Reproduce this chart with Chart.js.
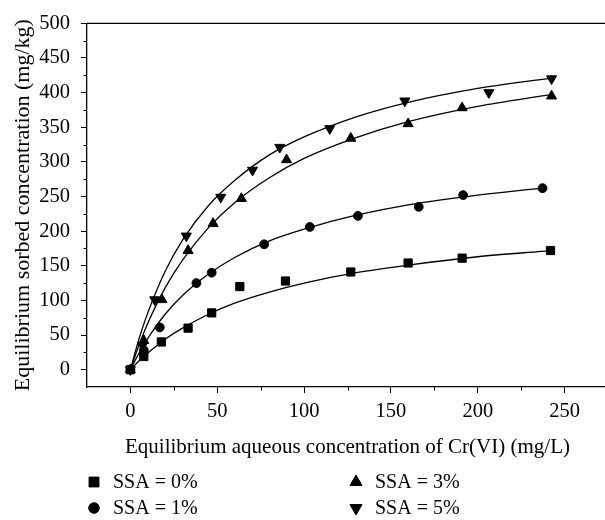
<!DOCTYPE html>
<html>
<head>
<meta charset="utf-8">
<script src="https://cdn.jsdelivr.net/npm/chart.js@4.4.0/dist/chart.umd.min.js"></script>
<style>
  html, body { margin: 0; padding: 0; background: #fff; overflow: hidden; }
  #wrap { width: 640px; height: 520px; }
</style>
</head>
<body>
<div id="wrap"><canvas id="chart" width="640" height="520"></canvas></div>
<script>
// Values
const xTicks = [0, 50, 100, 150, 200, 250];
const yTicks = [0, 50, 100, 150, 200, 250, 300, 350, 400, 450, 500];
const xMinor = [25, 75, 125, 175, 225];
const yMinor = [25, 75, 125, 175, 225, 275, 325, 375, 425, 475];

const seriesLabels = ['SSA = 0%', 'SSA = 1%', 'SSA = 3%', 'SSA = 5%'];

// measured points
const ssa0X = [0, 7.7, 17.8, 33.2, 46.8, 63, 89.3, 126.9, 159.9, 191, 241.9];
const ssa0Y = [0, 19, 40, 60, 82, 120, 128, 141, 154, 161, 172];
const ssa1X = [0, 7.7, 16.9, 38, 46.8, 77, 103.3, 131, 166, 191.6, 237.3];
const ssa1Y = [0, 28, 61, 125, 140, 181, 206, 222, 235, 252, 262];
const ssa3X = [0, 7.7, 18.2, 33.2, 47.6, 63.9, 89.9, 126.9, 159.9, 191, 242.5];
const ssa3Y = [0, 42, 101, 172, 211, 247, 303, 334, 355, 378, 395];
const ssa5X = [0, 7, 14, 32.2, 52, 70.3, 86, 114.8, 158, 206.4, 242.5];
const ssa5Y = [0, 35, 101, 193, 249, 288, 321, 348, 388, 400, 420];

// fitted curves
const fitX = [0, 5, 10, 20, 30, 45, 60, 80, 100, 130, 160, 200, 242];
const fit1X = [0, 5, 10, 20, 30, 45, 60, 80, 100, 130, 160, 200, 237];
const fit0Y = [0, 13, 24, 44, 60, 80, 96, 112, 125, 140, 151, 163, 172];
const fit1Y = [0, 24, 45, 80, 107, 138, 162, 186, 203, 223, 238, 252, 262];
const fit3Y = [0, 36, 67, 118, 158, 205, 241, 277, 305, 335, 358, 380, 397];
const fit5Y = [0, 45, 82, 142, 187, 237, 273, 310, 336, 365, 386, 406, 421];

const FONT = '"Liberation Serif", "Times New Roman", serif';
const INK = '#000';

function pts(xs, ys) {
    return xs.map((x, i) => ({ x: x, y: ys[i] }));
}

function markerSet(label, xs, ys, style, radius, rotation) {
    return {
        label: label,
        data: pts(xs, ys),
        showLine: false,
        pointStyle: style,
        pointRadius: radius,
        pointHoverRadius: radius,
        pointRotation: rotation,
        pointBackgroundColor: INK,
        pointBorderColor: INK,
        pointBorderWidth: 1,
        order: 0,
    };
}

function curveSet(xs, ys) {
    return {
        label: '_fit',
        data: pts(xs, ys),
        showLine: true,
        pointRadius: 0,
        pointHoverRadius: 0,
        borderColor: INK,
        borderWidth: 1.3,
        cubicInterpolationMode: 'monotone',
        order: 1,
    };
}

const markers = [
    markerSet(seriesLabels[0], ssa0X, ssa0Y, 'rect', 5.8, 0),
    markerSet(seriesLabels[1], ssa1X, ssa1Y, 'circle', 4.4, 0),
    markerSet(seriesLabels[2], ssa3X, ssa3Y, 'triangle', 5.8, 0),
    markerSet(seriesLabels[3], ssa5X, ssa5Y, 'triangle', 5.8, 180),
];

// frame top/right + minor ticks + 2x2 legend
const framePlugin = {
    id: 'frame',
    afterDraw(chart) {
        const { ctx, chartArea: a, scales } = chart;
        ctx.save();
        ctx.strokeStyle = INK;
        ctx.lineWidth = 1.3;
        ctx.beginPath();
        ctx.moveTo(a.left, a.top);
        ctx.lineTo(a.right, a.top);
        ctx.lineTo(a.right, a.bottom);
        ctx.stroke();

        ctx.lineWidth = 1;
        ctx.beginPath();
        xMinor.forEach((v) => {
            const px = Math.round(scales.x.getPixelForValue(v)) + 0.5;
            ctx.moveTo(px, a.bottom);
            ctx.lineTo(px, a.bottom + 3.5);
        });
        yMinor.forEach((v) => {
            const py = Math.round(scales.y.getPixelForValue(v)) + 0.5;
            ctx.moveTo(a.left, py);
            ctx.lineTo(a.left - 3.5, py);
        });
        ctx.stroke();

        // legend, column-major like the reference
        const cols = [94, 356];
        const rows = [482, 508];
        ctx.font = '20px ' + FONT;
        ctx.fillStyle = INK;
        ctx.textBaseline = 'middle';
        ctx.textAlign = 'left';
        markers.forEach((ds, i) => {
            const cx = cols[Math.floor(i / 2)];
            const cy = rows[i % 2];
            Chart.helpers.drawPoint(ctx, {
                pointStyle: ds.pointStyle,
                radius: ds.pointRadius * 1.2,
                rotation: ds.pointRotation,
                borderWidth: 1,
            }, cx, cy);
            ctx.fillStyle = INK;
            ctx.strokeStyle = INK;
            ctx.fill();
            ctx.fillText(ds.label, cx + 19, cy + 1);
        });
        ctx.restore();
    },
};

new Chart(document.getElementById('chart'), {
    type: 'scatter',
    data: {
        datasets: markers.concat([
            curveSet(fitX, fit0Y),
            curveSet(fit1X, fit1Y),
            curveSet(fitX, fit3Y),
            curveSet(fitX, fit5Y),
        ]),
    },
    options: {
        responsive: false,
        animation: false,
        layout: { padding: { left: 0, top: 14, right: 32, bottom: 58 } },
        plugins: {
            legend: { display: false },
            tooltip: { enabled: false },
        },
        scales: {
            x: {
                type: 'linear',
                min: -25,
                max: 275,
                afterBuildTicks: (s) => { s.ticks = xTicks.map((v) => ({ value: v })); },
                afterFit: (s) => { s.height = 75; },
                ticks: { color: INK, font: { family: FONT, size: 20.5 }, padding: 6, maxRotation: 0, autoSkip: false },
                grid: { drawOnChartArea: false, drawTicks: true, tickLength: 6, tickColor: INK, tickWidth: 1 },
                border: { color: INK, width: 1.3 },
                title: {
                    display: true,
                    text: 'Equilibrium aqueous concentration of Cr(VI) (mg/L)',
                    color: INK,
                    font: { family: FONT, size: 21 },
                    padding: { top: 0, bottom: 2 },
                },
            },
            y: {
                type: 'linear',
                min: -25,
                max: 500,
                afterBuildTicks: (s) => { s.ticks = yTicks.map((v) => ({ value: v })); },
                afterFit: (s) => { s.width = 87; },
                ticks: { color: INK, font: { family: FONT, size: 20.5 }, padding: 11, autoSkip: false },
                grid: { drawOnChartArea: false, drawTicks: true, tickLength: 6, tickColor: INK, tickWidth: 1 },
                border: { color: INK, width: 1.3 },
                title: {
                    display: true,
                    text: 'Equilibrium sorbed concentration (mg/kg)',
                    color: INK,
                    font: { family: FONT, size: 22 },
                    padding: { top: 10, bottom: 0 },
                },
            },
        },
    },
    plugins: [framePlugin],
});
</script>
</body>
</html>
